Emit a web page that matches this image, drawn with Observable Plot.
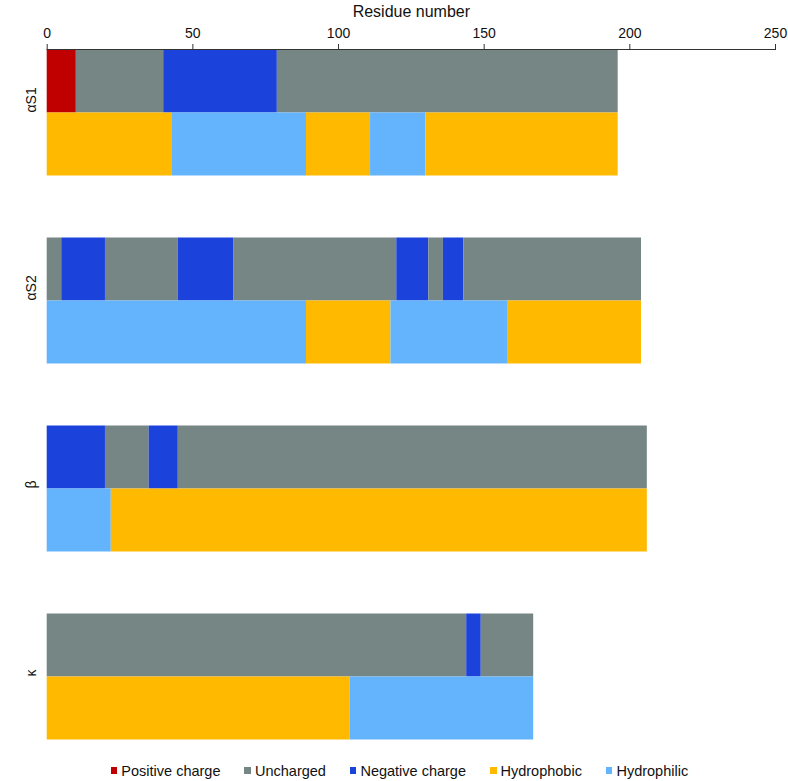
<!DOCTYPE html>
<html>
<head>
<meta charset="utf-8">
<script src="https://cdn.jsdelivr.net/npm/d3@7"></script>
<script src="https://cdn.jsdelivr.net/npm/@observablehq/plot@0.6"></script>
<style>
  body { margin: 0; background: #fff; font-family: "Liberation Sans", Arial, sans-serif; }
  #chart { width: 788px; }
  #chart svg g[aria-label="x-axis label"] text { font-size: 16px; }
  .legend { display: flex; justify-content: center; align-items: center; gap: 24px; font-size: 14.5px; color: #111; height: 41px; padding-left: 11px; box-sizing: border-box; }
  .legend span.item { display: flex; align-items: center; }
  .legend span.sw { display: inline-block; width: 6.5px; height: 6.5px; margin-right: 4px; }
</style>
</head>
<body>
<div id="chart"></div>
<script>
const proteins = ["αS1", "αS2", "β", "κ"];
const rows = ["Charge", "Hydropathy"];
const categories = ["Positive charge", "Uncharged", "Negative charge", "Hydrophobic", "Hydrophilic"];
const colors = ["#c00000", "#768684", "#1c42dc", "#ffba00", "#63b4fd"];
const xTicks = [0, 50, 100, 150, 200, 250];

// [start residue, end residue, category]
const aS1Charge = [[0, 10, "Positive charge"], [10, 40, "Uncharged"], [40, 79, "Negative charge"], [79, 196, "Uncharged"]];
const aS1Hydro = [[0, 43, "Hydrophobic"], [43, 89, "Hydrophilic"], [89, 111, "Hydrophobic"], [111, 130, "Hydrophilic"], [130, 196, "Hydrophobic"]];
const aS2Charge = [[0, 5, "Uncharged"], [5, 20, "Negative charge"], [20, 45, "Uncharged"], [45, 64, "Negative charge"], [64, 120, "Uncharged"], [120, 131, "Negative charge"], [131, 136, "Uncharged"], [136, 143, "Negative charge"], [143, 204, "Uncharged"]];
const aS2Hydro = [[0, 89, "Hydrophilic"], [89, 118, "Hydrophobic"], [118, 158, "Hydrophilic"], [158, 204, "Hydrophobic"]];
const bCharge = [[0, 20, "Negative charge"], [20, 35, "Uncharged"], [35, 45, "Negative charge"], [45, 206, "Uncharged"]];
const bHydro = [[0, 22, "Hydrophilic"], [22, 206, "Hydrophobic"]];
const kCharge = [[0, 144, "Uncharged"], [144, 149, "Negative charge"], [149, 167, "Uncharged"]];
const kHydro = [[0, 104, "Hydrophobic"], [104, 167, "Hydrophilic"]];

const segmentSets = [
  [proteins[0], rows[0], aS1Charge], [proteins[0], rows[1], aS1Hydro],
  [proteins[1], rows[0], aS2Charge], [proteins[1], rows[1], aS2Hydro],
  [proteins[2], rows[0], bCharge], [proteins[2], rows[1], bHydro],
  [proteins[3], rows[0], kCharge], [proteins[3], rows[1], kHydro]
];
const segments = segmentSets.flatMap(([protein, row, list]) =>
  list.map(([x1, x2, type]) => ({protein, row, x1, x2, type})));

const plot = Plot.plot({
  width: 788,
  height: 750,
  marginTop: 47.5,
  marginLeft: 46.7,
  marginRight: 13,
  marginBottom: 10,
  style: {fontFamily: "Liberation Sans, Arial, sans-serif", color: "#111", fontSize: "14px"},
  x: {domain: [0, 250], axis: null},
  y: {domain: rows, axis: null, padding: 0},
  fy: {domain: proteins, axis: null, paddingInner: 0.332, paddingOuter: 0},
  color: {domain: categories, range: colors},
  marks: [
    Plot.rectX(segments, {x1: "x1", x2: "x2", y: "row", fy: "protein", fill: "type"}),
    Plot.frame({anchor: "top", facetAnchor: "top", stroke: "#333"}),
    Plot.axisX({anchor: "top", ticks: xTicks, tickSize: 6, tickPadding: 6, fontSize: 14, stroke: "#333",
      label: "Residue number", labelAnchor: "center", labelArrow: "none", labelOffset: 44}),
    Plot.text(proteins, {fy: d => d, text: d => d, frameAnchor: "left", dx: -16, rotate: -90, fontSize: 14})
  ]
});
document.getElementById("chart").appendChild(plot);

const legend = document.createElement("div");
legend.className = "legend";
categories.forEach((c, i) => {
  const item = document.createElement("span");
  item.className = "item";
  const sw = document.createElement("span");
  sw.className = "sw";
  sw.style.background = colors[i];
  item.appendChild(sw);
  item.appendChild(document.createTextNode(c));
  legend.appendChild(item);
});
document.getElementById("chart").appendChild(legend);
</script>
</body>
</html>
